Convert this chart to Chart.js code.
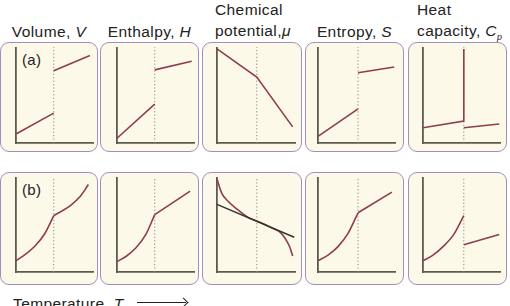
<!DOCTYPE html>
<html><head><meta charset="utf-8">
<script src="https://cdn.jsdelivr.net/npm/chart.js@4.4.1/dist/chart.umd.min.js"></script>
<style>
html,body{margin:0;padding:0;background:#fff;width:510px;height:306px;overflow:hidden;position:relative;font-family:"Liberation Sans",Arial,sans-serif;color:#222}
.box{position:absolute;box-sizing:border-box;border:1.6px solid #a38ebb;border-radius:9px;background:#fdf9e9}
.t{position:absolute;font-size:15.5px;line-height:21px;letter-spacing:0.4px;white-space:nowrap}
.lab{position:absolute;font-size:15px;line-height:16px;letter-spacing:0.3px;white-space:nowrap}
canvas{position:absolute}
</style></head><body>
<script>
// ---- text ----
const panelTitles = ['Volume, <i>V</i>', 'Enthalpy, <i>H</i>', 'Chemical<br>potential,<i>μ</i>', 'Entropy, <i>S</i>', 'Heat<br>capacity, <i>C<sub style="font-size:9px">p</sub></i>'];
const rowLabels = ['(a)', '(b)'];
const axisLabel = 'Temperature, <i>T</i>';

// ---- data (x: temperature 0-100, y: property 0-100) ----
const transitionA = [49, 49, 51, 52, 53];
const transitionB = [49, 49, 51, 52, 53];
// (a) first-order transition
const V_a_solid = [[0, 9.5], [49, 31.5]];
const V_a_liquid = [[49, 76], [96, 92]];
const H_a_solid = [[0, 5], [49, 41]];
const H_a_liquid = [[49, 77], [97, 86]];
const mu_a = [[0, 99], [51, 69.5], [97, 17]];
const S_a_solid = [[0, 7], [52, 36]];
const S_a_liquid = [[52, 74], [99, 80]];
const Cp_a_solid = [[0, 16], [53, 23], [53, 99]];
const Cp_a_liquid = [[53, 16], [99, 20]];
// (b) second-order transition
const V_b_low = [[0, 12], [12.5, 19], [25, 28], [37.5, 41], [49, 60]];
const V_b_high = [[49, 60], [60, 65], [71, 71], [83, 80], [94, 93]];
const H_b_low = [[0, 11], [12.5, 17], [25, 26], [37.5, 40], [49, 61]];
const H_b_high = [[49, 61], [95, 86]];
const mu_b_curve = [[0, 99], [6, 84], [14.5, 75], [27, 66], [40, 58], [50, 54.5], [60, 51], [70, 47], [80, 43], [85, 38.5], [90, 32], [94, 25], [97, 17]];
const mu_b_line = [[0, 72], [99, 37]];
const S_b_low = [[0, 12], [13, 18], [26, 27], [39, 41], [52, 63]];
const S_b_high = [[52, 63], [96, 85]];
const Cp_b_low = [[0, 12], [13, 18], [26, 27], [40, 40], [53, 60]];
const Cp_b_high = [[53, 29], [99, 40]];

// ---- layout ----
const BOX_LEFT = [0, 100, 202, 305, 408];
const BOX_W = [98, 99, 100, 99, 99];
const ROW_TOP = [42, 172];
const ROW_H = [110, 113];
const AXIS_LEFT = [16, 117, 217, 318, 423];
const AXIS_RIGHT = [93, 194, 295, 395, 500];
const AXIS_TOP = [48, 178];
const AXIS_BOTTOM = [143, 272];
const PAD = 6;
const RED = '#8e3c50', AXIS = '#5d5b4f', DARK = '#34332e', DOT = '#8a8a82';

function el(tag, cls, css, html) {
  const e = document.createElement(tag);
  if (cls) e.className = cls;
  Object.assign(e.style, css);
  if (html != null) e.innerHTML = html;
  document.body.appendChild(e);
  return e;
}

// boxes
for (let r = 0; r < 2; r++) for (let c = 0; c < 5; c++) {
  el('div', 'box', {left: BOX_LEFT[c] + 'px', top: ROW_TOP[r] + 'px', width: BOX_W[c] + 'px', height: ROW_H[r] + 'px'});
}
// titles
el('div', 't', {left: BOX_LEFT[0] + 'px', width: BOX_W[0] + 'px', textAlign: 'center', top: '21px'}, panelTitles[0]);
el('div', 't', {left: BOX_LEFT[1] + 'px', width: BOX_W[1] + 'px', textAlign: 'center', top: '21px'}, panelTitles[1]);
el('div', 't', {left: '215px', top: '-1px'}, panelTitles[2]);
el('div', 't', {left: BOX_LEFT[3] + 'px', width: BOX_W[3] + 'px', textAlign: 'center', top: '21px'}, panelTitles[3]);
el('div', 't', {left: '417px', top: '-1px'}, panelTitles[4]);
el('div', 'lab', {left: '22px', top: '52px'}, rowLabels[0]);
el('div', 'lab', {left: '22px', top: '182px'}, rowLabels[1]);
el('div', 't', {left: '13px', top: '293px'}, axisLabel);
// arrow
el('div', '', {position: 'absolute', left: '137px', top: '302px', width: '49px', height: '1.4px', background: '#222'});
el('div', '', {position: 'absolute', left: '180px', top: '298.5px', width: '6px', height: '6px', borderTop: '1.4px solid #222', borderRight: '1.4px solid #222', transform: 'rotate(45deg)'});

function ds(points, color, order, smooth, width) {
  return {
    data: points.map(([x, y]) => ({x, y})),
    borderColor: color, borderWidth: width || 1.6, pointRadius: 0, fill: false,
    tension: 0, cubicInterpolationMode: smooth ? 'monotone' : 'default',
    order, clip: false
  };
}

function panel(c, r, sets, T) {
  const w = AXIS_RIGHT[c] - AXIS_LEFT[c] + 2 * PAD;
  const h = AXIS_BOTTOM[r] - AXIS_TOP[r] + 2 * PAD;
  const cv = el('canvas', '', {left: (AXIS_LEFT[c] - PAD) + 'px', top: (AXIS_TOP[r] - PAD) + 'px', width: w + 'px', height: h + 'px'});
  cv.width = w; cv.height = h;
  const dotted = {
    data: [{x: T, y: 0}, {x: T, y: 101}], borderColor: DOT, borderWidth: 1,
    borderDash: [1.2, 2.2], pointRadius: 0, fill: false, order: 9, clip: false
  };
  const axisOpt = (isX) => ({
    type: 'linear', min: 0, max: 100,
    grid: {display: false, drawTicks: false},
    ticks: {display: false},
    border: {display: true, color: AXIS, width: 1.8},
    afterFit(s) { if (isX) s.height = 0; else s.width = 0; }
  });
  new Chart(cv.getContext('2d'), {
    type: 'line',
    data: {datasets: [...sets, dotted]},
    options: {
      responsive: false, animation: false, devicePixelRatio: 1, events: [],
      layout: {padding: PAD},
      plugins: {legend: {display: false}, tooltip: {enabled: false}},
      scales: {x: axisOpt(true), y: axisOpt(false)}
    }
  });
}

// row (a)
panel(0, 0, [ds(V_a_solid, RED, 1), ds(V_a_liquid, RED, 1)], transitionA[0]);
panel(1, 0, [ds(H_a_solid, RED, 1), ds(H_a_liquid, RED, 1)], transitionA[1]);
panel(2, 0, [ds(mu_a, RED, 1)], transitionA[2]);
panel(3, 0, [ds(S_a_solid, RED, 1), ds(S_a_liquid, RED, 1)], transitionA[3]);
panel(4, 0, [ds(Cp_a_solid, RED, 1), ds(Cp_a_liquid, RED, 1)], transitionA[4]);
// row (b)
panel(0, 1, [ds(V_b_low, RED, 1, true), ds(V_b_high, RED, 1, true)], transitionB[0]);
panel(1, 1, [ds(H_b_low, RED, 1, true), ds(H_b_high, RED, 1)], transitionB[1]);
panel(2, 1, [ds(mu_b_line, DARK, 1, false, 1.5), ds(mu_b_curve, RED, 2, true)], transitionB[2]);
panel(3, 1, [ds(S_b_low, RED, 1, true), ds(S_b_high, RED, 1)], transitionB[3]);
panel(4, 1, [ds(Cp_b_low, RED, 1, true), ds(Cp_b_high, RED, 1)], transitionB[4]);
</script>
</body></html>
